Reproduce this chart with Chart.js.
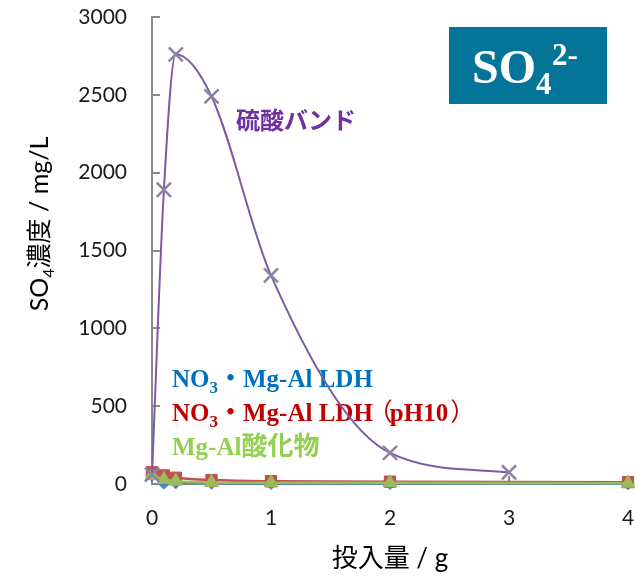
<!DOCTYPE html>
<html><head><meta charset="utf-8">
<script src="https://cdn.jsdelivr.net/npm/chart.js@4"></script>
<style>html,body{margin:0;padding:0;background:#fff}#wrap{width:635px;height:579px}</style>
</head><body><div id="wrap"><canvas id="c" width="635" height="579"></canvas></div>
<script>
// Dose of adsorbent (g)
const dosesAcid = [0, 0.1, 0.2, 0.5, 1, 2, 3];
const dosesLDH = [0, 0.1, 0.2, 0.5, 1, 2, 4];
// SO4 concentration (mg/L)
const acidBand = [60, 1890, 2760, 2490, 1340, 200, 75];
const ldhNO3 = [55, 5, 8, 5, 3, 3, 2];
const ldhNO3pH10 = [75, 55, 40, 25, 18, 15, 12];
const mgAlOxide = [55, 30, 18, 10, 8, 8, 5];
// Axis ticks
const yTicks = [0, 500, 1000, 1500, 2000, 2500, 3000];
const xTicks = [0, 1, 2, 3, 4];

// Plot rectangle inside the 635x579 canvas
const AREA = { left: 152, top: 17, right: 628, bottom: 484 };

const pts = (xs, ys) => xs.map((x, i) => ({ x, y: ys[i] }));

const SERIF_B = 'bold 25px "Liberation Serif"';
const CJK_B = 'bold 25px "Noto Sans CJK JP"';
const LATO = '"Lato", "Open Sans", sans-serif';

function richWidth(ctx, segs) {
  let w = 0;
  for (const s of segs) { ctx.font = s.font; w += ctx.measureText(s.t).width + (s.gap || 0); }
  return w;
}
function drawRich(ctx, x, y, segs, color, align) {
  const w = richWidth(ctx, segs);
  let cx = align === 'center' ? x - w / 2 : x;
  ctx.textBaseline = 'alphabetic';
  ctx.textAlign = 'left';
  for (const s of segs) {
    ctx.font = s.font;
    ctx.fillStyle = s.color || color;
    ctx.fillText(s.t, cx + (s.dx || 0), y + (s.dy || 0));
    cx += ctx.measureText(s.t).width + (s.gap || 0);
  }
}

// Fix the plot rectangle after Chart.js has laid out its boxes
const pinArea = {
  id: 'pinArea',
  afterLayout(chart) {
    const { x, y } = chart.scales;
    x.left = AREA.left; x.right = AREA.right; x.width = AREA.right - AREA.left; x.configure();
    y.top = AREA.top; y.bottom = AREA.bottom; y.height = AREA.bottom - AREA.top; y.configure();
    const ca = chart.chartArea;
    ca.left = AREA.left; ca.right = AREA.right; ca.top = AREA.top; ca.bottom = AREA.bottom;
    ca.width = AREA.right - AREA.left; ca.height = AREA.bottom - AREA.top;
  }
};

const decor = {
  id: 'decor',
  beforeDatasetsDraw(chart) {
    const { ctx, scales: { x, y } } = chart;
    ctx.save();
    // inward tick marks
    ctx.strokeStyle = '#898989';
    ctx.lineWidth = 2;
    const x0 = x.getPixelForValue(0), y0 = y.getPixelForValue(0);
    for (const v of yTicks) {
      const py = Math.round(y.getPixelForValue(v));
      ctx.beginPath(); ctx.moveTo(x0, py); ctx.lineTo(x0 + 8, py); ctx.stroke();
    }
    for (const v of xTicks) {
      const px = Math.round(x.getPixelForValue(v));
      ctx.beginPath(); ctx.moveTo(px, y0); ctx.lineTo(px, y0 - 8); ctx.stroke();
    }
    // series labels
    drawRich(ctx, 236, 129, [{ t: '硫酸バンド', font: 'bold 24px "Noto Sans CJK JP"' }], '#7030a0');
    drawRich(ctx, 172, 387, [
      { t: 'NO', font: SERIF_B },
      { t: '3', font: 'bold 17px "Liberation Serif"', dy: 6 },
      { t: '・', font: CJK_B },
      { t: 'Mg-Al LDH', font: SERIF_B }
    ], '#0070c0');
    drawRich(ctx, 172, 421, [
      { t: 'NO', font: SERIF_B },
      { t: '3', font: 'bold 17px "Liberation Serif"', dy: 6 },
      { t: '・', font: CJK_B },
      { t: 'Mg-Al LDH', font: SERIF_B },
      { t: '（', font: '25px "Noto Sans CJK JP"', dx: -5, gap: -8 },
      { t: 'pH10', font: SERIF_B },
      { t: '）', font: '25px "Noto Sans CJK JP"', dx: 2 }
    ], '#c00000');
    drawRich(ctx, 172, 455, [
      { t: 'Mg-Al', font: SERIF_B },
      { t: '酸化物', font: 'bold 26px "Noto Sans CJK JP"' }
    ], '#92d050');
    ctx.restore();
  },
  afterDraw(chart) {
    const { ctx } = chart;
    ctx.save();
    // ion badge
    ctx.fillStyle = '#047499';
    ctx.fillRect(449, 27, 158, 77);
    drawRich(ctx, 472, 83, [
      { t: 'SO', font: 'bold 48px "Liberation Serif"' },
      { t: '4', font: 'bold 31px "Liberation Serif"', dy: 11 }
    ], '#ffffff');
    ctx.font = 'bold 31px "Liberation Serif"';
    ctx.fillStyle = '#ffffff';
    ctx.fillText('2-', 552, 65);
    // axis titles
    ctx.save();
    ctx.translate(48, 224);
    ctx.rotate(-Math.PI / 2);
    drawRich(ctx, 0, 0, [
      { t: 'SO', font: '25px ' + LATO },
      { t: '4', font: '16px ' + LATO, dy: 6 },
      { t: '濃度', font: '25px "Noto Sans CJK JP"' },
      { t: ' / mg/L', font: '25px ' + LATO }
    ], '#000000', 'center');
    ctx.restore();
    drawRich(ctx, 390, 567, [
      { t: '投入量', font: '26px "Noto Sans CJK JP"' },
      { t: ' / g', font: '26px ' + LATO }
    ], '#000000', 'center');
    ctx.restore();
  }
};

new Chart(document.getElementById('c'), {
  type: 'scatter',
  data: {
    datasets: [
      {
        label: '硫酸バンド', data: pts(dosesAcid, acidBand), showLine: true,
        cubicInterpolationMode: 'monotone',
        borderColor: '#7b5ba6', borderWidth: 2, pointStyle: 'crossRot', pointRadius: 10,
        pointBorderColor: '#8c83a3', pointBackgroundColor: '#8c83a3', pointBorderWidth: 2.5
      },
      {
        label: 'Mg-Al酸化物', data: pts(dosesLDH, mgAlOxide), showLine: true, tension: 0.4,
        borderColor: '#9bbb59', borderWidth: 2.5, pointStyle: 'triangle', pointRadius: 8,
        pointBorderColor: '#9bbb59', pointBackgroundColor: '#9bbb59', pointBorderWidth: 1
      },
      {
        label: 'NO3・Mg-Al LDH（pH10）', data: pts(dosesLDH, ldhNO3pH10), showLine: true, tension: 0.4,
        borderColor: '#c0504d', borderWidth: 2.5, pointStyle: 'rect', pointRadius: 8,
        pointBorderColor: '#c0504d', pointBackgroundColor: '#c0504d', pointBorderWidth: 1
      },
      {
        label: 'NO3・Mg-Al LDH', data: pts(dosesLDH, ldhNO3), showLine: true, tension: 0.4,
        borderColor: '#4f81bd', borderWidth: 2.5, pointStyle: 'rectRot', pointRadius: 6,
        pointBorderColor: '#4f81bd', pointBackgroundColor: '#4f81bd', pointBorderWidth: 1
      }
    ]
  },
  options: {
    responsive: false,
    animation: false,
    clip: false,
    layout: { padding: { left: 0, right: 7, top: 17, bottom: 0 } },
    plugins: { legend: { display: false }, tooltip: { enabled: false } },
    scales: {
      x: {
        type: 'linear', min: 0, max: 4,
        afterFit(s) { s.height = 95; },
        afterBuildTicks(s) { s.ticks = xTicks.map(v => ({ value: v })); },
        grid: { display: false, drawTicks: false },
        border: { display: true, color: '#898989', width: 2 },
        ticks: { padding: 22, color: '#1a1a1a', font: { family: 'Lato', size: 21 }, callback: v => String(v) }
      },
      y: {
        type: 'linear', min: 0, max: 3000,
        afterFit(s) { s.width = 152; },
        afterBuildTicks(s) { s.ticks = yTicks.map(v => ({ value: v })); },
        grid: { display: false, drawTicks: false },
        border: { display: true, color: '#898989', width: 2 },
        ticks: { padding: 25, color: '#1a1a1a', font: { family: 'Lato', size: 21 }, callback: v => String(v) }
      }
    }
  },
  plugins: [pinArea, decor]
});
</script>
</body></html>
